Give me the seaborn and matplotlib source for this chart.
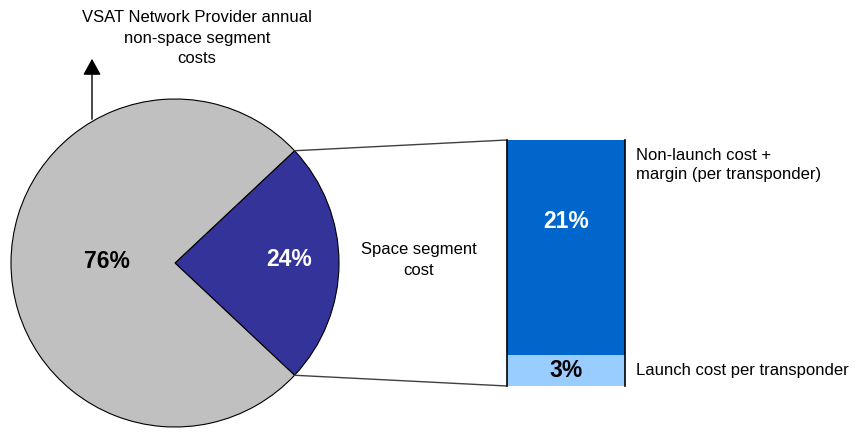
import matplotlib
matplotlib.use("Agg")
import matplotlib.pyplot as plt
import seaborn as sns
import numpy as np

# ---- data ----
pie_labels = ["Space segment cost", "VSAT Network Provider annual non-space segment costs"]
pie_values = [24, 76]
bar_segments = ["Launch cost per transponder", "Non-launch cost + margin (per transponder)"]
bar_values = [3, 21]

# ---- style ----
sns.set_style("white")
plt.rcParams["font.family"] = ["Liberation Sans", "DejaVu Sans"]
plt.rcParams["text.color"] = "black"

W, H = 857, 434
fig = plt.figure(figsize=(W / 100, H / 100), dpi=100)
ax = fig.add_axes([0, 0, 1, 1])

def Y(y):  # convert from top-down pixel coordinate
    return H - y

cx, cy, r = 175, Y(263), 164
half = pie_values[0] / 100 * 360 / 2
ax.pie(pie_values, colors=["#333399", "#C0C0C0"], startangle=-half,
       counterclock=True, center=(cx, cy), radius=r,
       wedgeprops=dict(edgecolor="black", linewidth=0.8))
ax.set_xlim(0, W)
ax.set_ylim(0, H)
ax.set_aspect("auto")
ax.axis("off")

ax.text(107, Y(261), f"{pie_values[1]}%", ha="center", va="center",
        fontsize=16.5, fontweight="bold", color="black")
ax.text(289, Y(260), f"{pie_values[0]}%", ha="center", va="center",
        fontsize=16.5, fontweight="bold", color="white")

# connector lines from the wedge corners to the bar
bx0, bx1, btop, bbot = 507, 625, 140, 386
ux = cx + r * np.cos(np.radians(half))
uy = cy + r * np.sin(np.radians(half))
ly = cy - r * np.sin(np.radians(half))
ax.plot([ux, bx0], [uy, Y(btop)], color="#404040", lw=1)
ax.plot([ux, bx0], [ly, Y(bbot)], color="#404040", lw=1)

# arrow and title
ax.annotate("", xy=(92, Y(56)), xytext=(92, Y(122)),
            arrowprops=dict(arrowstyle="-|>,head_length=1.0,head_width=0.55",
                            color="black", lw=1))
ax.text(197, Y(38), "VSAT Network Provider annual\nnon-space segment\ncosts",
        ha="center", va="center", fontsize=12, linespacing=1.42, color="black")
ax.text(419, Y(260), "Space segment\ncost", ha="center", va="center",
        fontsize=12, linespacing=1.5, color="black")
ax.text(636, Y(165), "Non-launch cost +\nmargin (per transponder)", ha="left",
        va="center", fontsize=12, linespacing=1.32, color="black")
ax.text(636, Y(371), "Launch cost per transponder", ha="left", va="center",
        fontsize=12, color="black")

# ---- stacked bar ----
bax = fig.add_axes([bx0 / W, Y(bbot) / H, (bx1 - bx0) / W, (bbot - btop) / H])
total = sum(bar_values)
sns.barplot(x=["Space segment"], y=[total], color="#0066CC", width=1,
            saturation=1, ax=bax, linewidth=0)
sns.barplot(x=["Space segment"], y=[bar_values[0]], color="#99CCFF", width=1,
            saturation=1, ax=bax, linewidth=0)
bax.set_xlim(-0.5, 0.5)
bax.set_ylim(0, total)
bax.set_xticks([])
bax.set_yticks([])
bax.set_xlabel("")
bax.set_ylabel("")
for s in ["top", "bottom"]:
    bax.spines[s].set_visible(False)
for s in ["left", "right"]:
    bax.spines[s].set_visible(True)
    bax.spines[s].set_color("black")
    bax.spines[s].set_linewidth(1.2)
bax.patch.set_alpha(0)

bax.text(0, bar_values[0] + bar_values[1] * 0.62, f"{bar_values[1]}%",
         ha="center", va="center", fontsize=16.5, fontweight="bold", color="white")
bax.text(0, bar_values[0] / 2, f"{bar_values[0]}%", ha="center", va="center",
         fontsize=16.5, fontweight="bold", color="black")

fig.savefig("out.png", dpi=100)
